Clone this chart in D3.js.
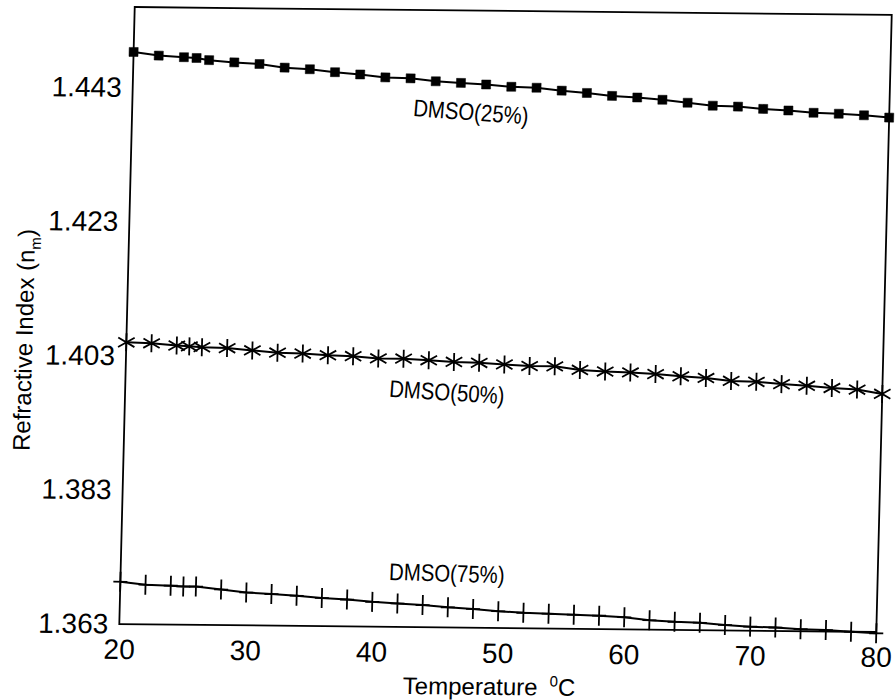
<!DOCTYPE html>
<html>
<head>
<meta charset="utf-8">
<script src="https://cdn.jsdelivr.net/npm/d3@7"></script>
<style>
  body { margin: 0; background: #fff; }
  svg { display: block; font-family: "Liberation Sans", Arial, Helvetica, sans-serif; }
  .tick text { font-family: "Liberation Sans", Arial, Helvetica, sans-serif; font-size: 28px; fill: #000; }
  .axis-label { font-size: 24px; fill: #000; }
  .series-label { font-size: 24px; fill: #000; }
</style>
</head>
<body>
<svg></svg>
<script>
// temperatures (°C) at which the refractive index was measured
const temps = [20, 22, 24, 25, 26, 28, 30, 32, 34, 36, 38, 40, 42, 44, 46, 48,
  50, 52, 54, 56, 58, 60, 62, 64, 66, 68, 70, 72, 74, 76, 78, 80];

const dmso25 = [1.4483, 1.4478, 1.4476, 1.4475, 1.4472, 1.4469, 1.4467, 1.4462,
  1.4460, 1.4456, 1.4453, 1.4449, 1.4448, 1.4444, 1.4442, 1.4440,
  1.4437, 1.4436, 1.4432, 1.4429, 1.4425, 1.4423, 1.4420, 1.4416,
  1.4412, 1.4411, 1.4408, 1.4406, 1.4403, 1.4402, 1.4400, 1.4397];

const dmso50 = [1.4050, 1.4049, 1.4046, 1.4045, 1.4044, 1.4043, 1.4040, 1.4037,
  1.4036, 1.4034, 1.4033, 1.4030, 1.4030, 1.4028, 1.4026, 1.4025,
  1.4023, 1.4021, 1.4021, 1.4016, 1.4014, 1.4013, 1.4011, 1.4008,
  1.4006, 1.4002, 1.4001, 1.3998, 1.3996, 1.3993, 1.3991, 1.3985];

const dmso75 = [1.3693, 1.3689, 1.3688, 1.3687, 1.3687, 1.3683, 1.3679, 1.3677,
  1.3675, 1.3672, 1.3670, 1.3667, 1.3665, 1.3663, 1.3660, 1.3658,
  1.3655, 1.3653, 1.3652, 1.3651, 1.3650, 1.3648, 1.3644, 1.3642,
  1.3641, 1.3638, 1.3636, 1.3635, 1.3633, 1.3632, 1.3630, 1.3628];

const xTicks = [20, 30, 40, 50, 60, 70, 80];
const yTicks = [1.363, 1.383, 1.403, 1.423, 1.443];

const margin = { top: 11, right: 11, bottom: 72, left: 127 };
const width = 895 - margin.left - margin.right;
const height = 700 - margin.top - margin.bottom;

// the scanned original is slightly skewed; mimic it with a small shear about the centre
const skew = "translate(505,320) matrix(1,0.0105,-0.025,1,0,0) translate(-505,-320)";

const svg = d3.select("svg")
  .attr("width", 895)
  .attr("height", 700)
  .append("g")
  .attr("transform", `${skew} translate(${margin.left},${margin.top})`);

const x = d3.scaleLinear().domain([20, 80]).range([0, width]);
const y = d3.scaleLinear().domain([1.363, 1.455]).range([height, 0]);

// frame
svg.append("rect")
  .attr("width", width)
  .attr("height", height)
  .attr("fill", "none")
  .attr("stroke", "#000")
  .attr("stroke-width", 1.8);

svg.append("g")
  .attr("transform", `translate(0,${height})`)
  .call(d3.axisBottom(x).tickValues(xTicks).tickSize(0).tickPadding(15))
  .call(g => g.select(".domain").remove());

svg.append("g")
  .call(d3.axisLeft(y).tickValues(yTicks).tickFormat(d3.format(".3f")).tickSize(0).tickPadding(11))
  .call(g => g.select(".domain").remove());

// axis titles
const xTitle = svg.append("text")
  .attr("class", "axis-label")
  .attr("x", 285)
  .attr("y", height + 67);
xTitle.append("tspan").text("Temperature");
xTitle.append("tspan").attr("dx", 12).attr("dy", -9).attr("font-size", 15).text("0");
xTitle.append("tspan").attr("dy", 9).text("C");

const yTitle = svg.append("text")
  .attr("class", "axis-label")
  .attr("text-anchor", "middle")
  .attr("transform", `translate(-94,334) rotate(-90)`);
yTitle.append("tspan").text("Refractive Index (n");
yTitle.append("tspan").attr("dy", 6).attr("font-size", 15).text("m");
yTitle.append("tspan").attr("dy", -6).text(")");

const series = [
  { name: "DMSO(25%)", values: dmso25, symbol: "square" },
  { name: "DMSO(50%)", values: dmso50, symbol: "asterisk" },
  { name: "DMSO(75%)", values: dmso75, symbol: "plus" }
];

const symbols = {
  square: "M-4.5,-4.5H4.5V4.5H-4.5Z",
  asterisk: "M0,-9V9M-8.2,-4.7L8.2,4.7M-8.2,4.7L8.2,-4.7",
  plus: "M-7,0H7M0,-10V10"
};

const line = d3.line()
  .x(d => x(d.t))
  .y(d => y(d.v));

series.forEach(s => {
  const pts = temps.map((t, i) => ({ t, v: s.values[i] }));

  svg.append("path")
    .datum(pts)
    .attr("fill", "none")
    .attr("stroke", "#000")
    .attr("stroke-width", 2)
    .attr("d", line);

  svg.append("g")
    .selectAll("path")
    .data(pts)
    .join("path")
    .attr("transform", d => `translate(${x(d.t)},${y(d.v)})`)
    .attr("d", symbols[s.symbol])
    .attr("fill", s.symbol === "square" ? "#000" : "none")
    .attr("stroke", "#000")
    .attr("stroke-width", s.symbol === "square" ? 0.5 : 1.8);
});

// curve labels, placed in data coordinates (the original uses a narrow face)
const labels = [
  { text: "DMSO(25%)", t: 46.85, v: 1.4399, tilt: 3.5 },
  { text: "DMSO(50%)", t: 45.5, v: 1.3981, tilt: 3 },
  { text: "DMSO(75%)", t: 45.85, v: 1.3711, tilt: 1 }
];

svg.selectAll(".series-label")
  .data(labels)
  .join("text")
  .attr("class", "series-label")
  .attr("text-anchor", "middle")
  .attr("dy", "0.35em")
  .attr("transform", d => `translate(${x(d.t)},${y(d.v)}) rotate(${d.tilt}) scale(0.85,1)`)
  .text(d => d.text);
</script>
</body>
</html>
